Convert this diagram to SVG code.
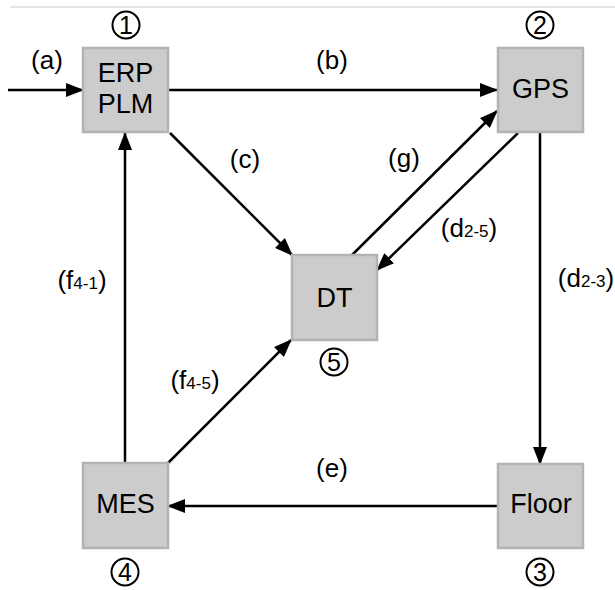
<svg xmlns="http://www.w3.org/2000/svg" width="615" height="590" viewBox="0 0 615 590">
<style>
.box{fill:#cccccc;stroke:#b3b3b3;stroke-width:2.5}
.nt{font-family:"Liberation Sans",Arial,sans-serif;font-size:27px;fill:#000;text-anchor:middle}
.lb{font-family:"Liberation Sans",Arial,sans-serif;font-size:26px;fill:#000;text-anchor:middle}
.sub{font-size:17px}
.num{fill:none;stroke:#000;stroke-width:2}
.nn{font-family:"Liberation Sans",Arial,sans-serif;font-size:25px;fill:#000;text-anchor:middle}
.cn{fill:none;stroke:#000;stroke-width:2.5;marker-end:url(#ah)}
</style>
<defs>
<marker id="ah" markerUnits="userSpaceOnUse" markerWidth="18" markerHeight="14" refX="17" refY="7" orient="auto">
<path d="M0,0 L18,7 L0,14 z" fill="#000"/>
</marker>
</defs>
<rect width="615" height="590" fill="#fff"/>
<line x1="10" y1="7" x2="615" y2="7" stroke="#dddddd" stroke-width="1.5"/>
<g id="connectors">
<path class="cn" d="M8,90 L83,90"/>
<path class="cn" d="M168,90 L497,90"/>
<path class="cn" d="M170,133 L292,255"/>
<path class="cn" d="M352,255 L497,111"/>
<path class="cn" d="M518,133 L377,270"/>
<path class="cn" d="M540,133 L540,464"/>
<path class="cn" d="M498,506 L168,506"/>
<path class="cn" d="M125,463 L125,133"/>
<path class="cn" d="M168,463 L291,340"/>
</g>
<g id="labels">
<text class="lb" x="47" y="69">(a)</text>
<text class="lb" x="332" y="69">(b)</text>
<text class="lb" x="245" y="168">(c)</text>
<text class="lb" x="404" y="167">(g)</text>
<text class="lb" x="469" y="237">(d<tspan class="sub">2-5</tspan>)</text>
<text class="lb" x="586" y="287">(d<tspan class="sub">2-3</tspan>)</text>
<text class="lb" x="82" y="289">(f<tspan class="sub">4-1</tspan>)</text>
<text class="lb" x="195" y="389">(f<tspan class="sub">4-5</tspan>)</text>
<text class="lb" x="332" y="477">(e)</text>
</g>
<g id="n1">
<rect class="box" x="83" y="48" width="85" height="84"/>
<text class="nt" x="125.5" y="82">ERP</text>
<text class="nt" x="125.5" y="113">PLM</text>
<circle class="num" cx="126" cy="25" r="13.5"/>
<text class="nn" x="126" y="34">1</text>
</g>
<g id="n2">
<rect class="box" x="498" y="48" width="85" height="84"/>
<text class="nt" x="540.5" y="98">GPS</text>
<circle class="num" cx="540" cy="25" r="13.5"/>
<text class="nn" x="540" y="34">2</text>
</g>
<g id="n3">
<rect class="box" x="498" y="464" width="85" height="84"/>
<text class="nt" x="541" y="513">Floor</text>
<circle class="num" cx="540" cy="572" r="13.5"/>
<text class="nn" x="540" y="581">3</text>
</g>
<g id="n4">
<rect class="box" x="83" y="463" width="85" height="85"/>
<text class="nt" x="125.5" y="513">MES</text>
<circle class="num" cx="125" cy="572" r="13.5"/>
<text class="nn" x="125" y="581">4</text>
</g>
<g id="n5">
<rect class="box" x="292" y="255" width="85" height="85"/>
<text class="nt" x="334.5" y="307">DT</text>
<circle class="num" cx="334" cy="362" r="13.5"/>
<text class="nn" x="334" y="371">5</text>
</g>
</svg>
